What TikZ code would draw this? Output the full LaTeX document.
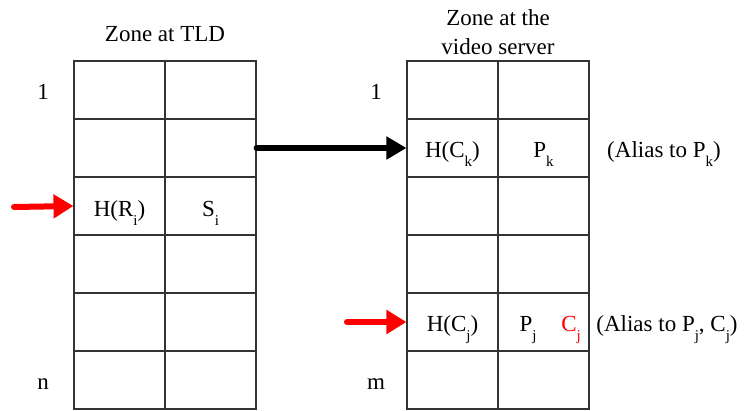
\documentclass[tikz,border=0pt]{standalone}
\usepackage{fontspec}
\setmainfont{Liberation Serif}
\usetikzlibrary{arrows.meta}
\newcommand{\lsub}[1]{\raisebox{-0.4em}{\fontsize{15}{15}\selectfont #1}}
\begin{document}
\begin{tikzpicture}[x=1pt,y=-1pt,
  cell/.style={draw=black!80, line width=1.1pt, minimum width=91pt, minimum height=58pt, inner sep=0pt},
  lbl/.style={font=\fontsize{23}{26}\selectfont, inner sep=0pt, anchor=base},
  redarrow/.style={draw=red, line width=6pt, line cap=round, -{Triangle[length=20pt,width=23pt]}},
  blackarrow/.style={draw=black, line width=6pt, line cap=round, -{Triangle[length=20pt,width=22pt]}}]
\useasboundingbox (0,0) rectangle (749,410);
\foreach \r in {1,...,6}{
  \node[cell] (L\r1) at (119.5,{32+58*\r}) {};
  \node[cell] (L\r2) at (210.5,{32+58*\r}) {};
  \node[cell] (R\r1) at (452.5,{32+58*\r}) {};
  \node[cell] (R\r2) at (543.5,{32+58*\r}) {};
}
\node[lbl] (tl) at (165,41) {Zone at TLD};
\node[lbl] (tr1) at (498,25) {Zone at the};
\node[lbl] (tr2) at (498,54) {video server};
\node[lbl] (n1) at (43,99) {1};
\node[lbl] (nn) at (43,389) {n};
\node[lbl] (m1) at (376,99) {1};
\node[lbl] (mm) at (376,389) {m};
\node[lbl] (hr) at (119.5,216) {H(R\lsub{i})};
\node[lbl] (si) at (210.5,216) {S\lsub{i}};
\node[lbl] (hck) at (452.5,157) {H(C\lsub{k})};
\node[lbl] (pk) at (543.5,157) {P\lsub{k}};
\node[lbl] (hcj) at (452.5,331) {H(C\lsub{j})};
\node[lbl] (pj) at (528,331) {P\lsub{j}};
\node[lbl, text=red] (cj) at (571,331) {C\lsub{j}};
\node[lbl] (ak) at (664,157) {(Alias to P\lsub{k})};
\node[lbl] (aj) at (667,331) {(Alias to P\lsub{j}, C\lsub{j})};
\coordinate (s1) at (14,207);
\coordinate (s2) at (347,322);
\draw[redarrow] (s1) -- (L31.west);
\draw[redarrow] (s2) -- (R51.west);
\draw[blackarrow] (L22.east) -- (R21.west);
\end{tikzpicture}
\end{document}
